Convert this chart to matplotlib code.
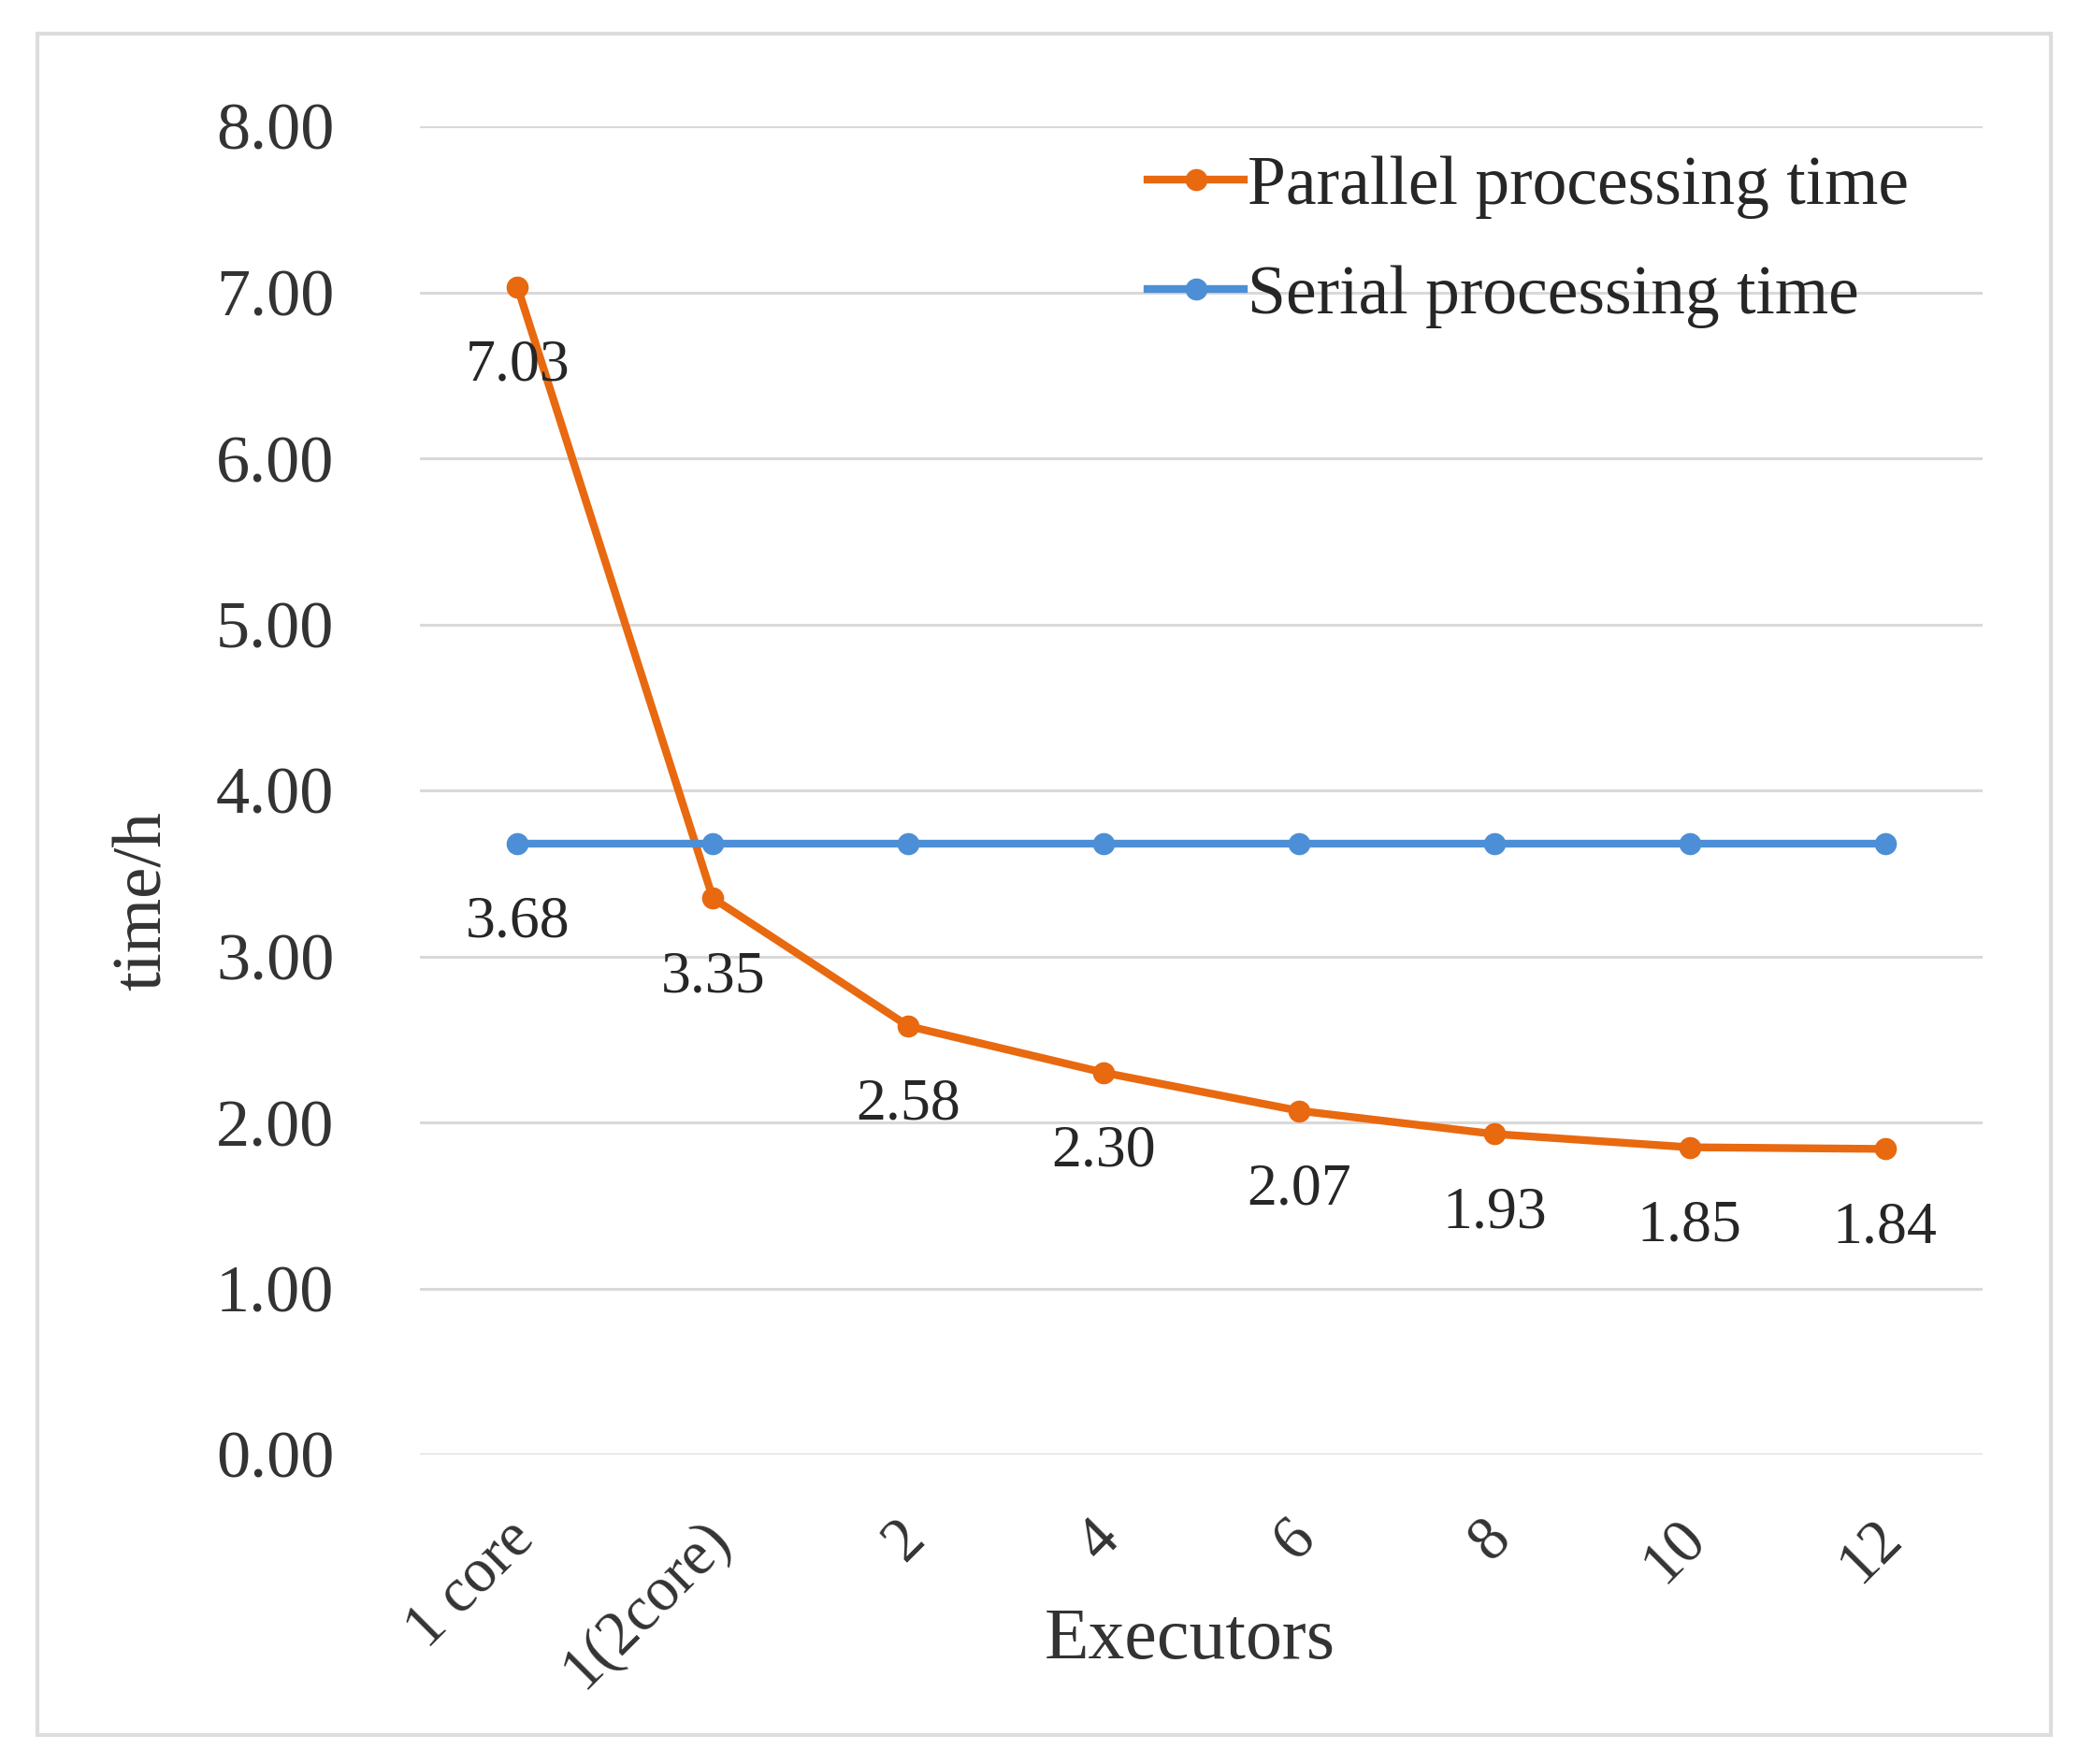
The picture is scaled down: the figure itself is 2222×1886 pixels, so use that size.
import matplotlib
matplotlib.use("Agg")
import matplotlib.pyplot as plt
import matplotlib.transforms as mtransforms
from matplotlib.patches import Rectangle

# data
categories = ['1 core', '1(2core)', '2', '4', '6', '8', '10', '12']
parallel_time = [7.03, 3.35, 2.58, 2.30, 2.07, 1.93, 1.85, 1.84]
serial_time = [3.68, 3.68, 3.68, 3.68, 3.68, 3.68, 3.68, 3.68]
y_ticks = [0, 1, 2, 3, 4, 5, 6, 7, 8]

orange = '#E8690F'
blue = '#4C8FD6'
grid_gray = '#D9D9D9'

plt.rcParams['font.family'] = ['Liberation Serif', 'DejaVu Serif']

W, H = 2222, 1886
fig = plt.figure(figsize=(W / 100, H / 100), dpi=100)
ax = fig.add_axes([449 / W, 1 - 1555 / H, (2120 - 449) / W, (1555 - 135) / H])

x = list(range(len(categories)))

ax.plot(x, parallel_time, color=orange, lw=6, marker='o', ms=16,
        label='Parallel processing time', zorder=3)
ax.plot(x, serial_time, color=blue, lw=6, marker='o', ms=16,
        label='Serial processing time', zorder=3)

# data labels under the points
for xi, v in zip(x, parallel_time):
    ax.annotate(f'{v:.2f}', (xi, v), xytext=(0, -61), textcoords='offset points',
                ha='center', va='center', fontsize=46, color='#262626', zorder=4)
ax.annotate(f'{serial_time[0]:.2f}', (x[0], serial_time[0]), xytext=(0, -61),
            textcoords='offset points', ha='center', va='center',
            fontsize=46, color='#262626', zorder=4)

ax.set_xlim(-0.5, len(categories) - 0.5)
ax.set_ylim(0, 8)
ax.set_yticks(y_ticks)
ax.set_yticklabels([f'{t:.2f}' for t in y_ticks])
ax.yaxis.grid(True, color=grid_gray, lw=2.2)
ax.set_axisbelow(True)
for s in ax.spines.values():
    s.set_visible(False)

ax.tick_params(axis='y', length=0, pad=66, labelsize=52, labelcolor='#333333')
ax.tick_params(axis='x', length=0, pad=58, labelsize=48, labelcolor='#333333')
ax.set_xticks(x)
ax.set_xticklabels(categories, rotation=45, ha='right', va='center',
                   rotation_mode='anchor')
shift = mtransforms.ScaledTranslation(8 / 100, 0, fig.dpi_scale_trans)
for lab in ax.get_xticklabels():
    lab.set_transform(lab.get_transform() + shift)

fig.text(154 / W, 1 - 963 / H, 'time/h', rotation=90, ha='center', va='center',
         fontsize=54, color='#333333')
fig.text(1272 / W, 1 - 1754 / H, 'Executors', ha='center', va='center',
         fontsize=56, color='#333333')

ax.legend(loc='upper left', bbox_to_anchor=(1227 / W, 1 - 166 / H),
          bbox_transform=fig.transFigure, frameon=False, fontsize=53,
          handlelength=1.4, handletextpad=0.05, labelspacing=0.68,
          borderpad=0, borderaxespad=0, labelcolor='#262626')

# light frame around the whole chart
fig.patches.append(Rectangle((40 / W, 1 - 1855 / H), (2193 - 40) / W, (1855 - 36) / H,
                             transform=fig.transFigure, fill=False,
                             edgecolor='#DDDDDD', lw=3))

fig.savefig('out.png', dpi=100)
